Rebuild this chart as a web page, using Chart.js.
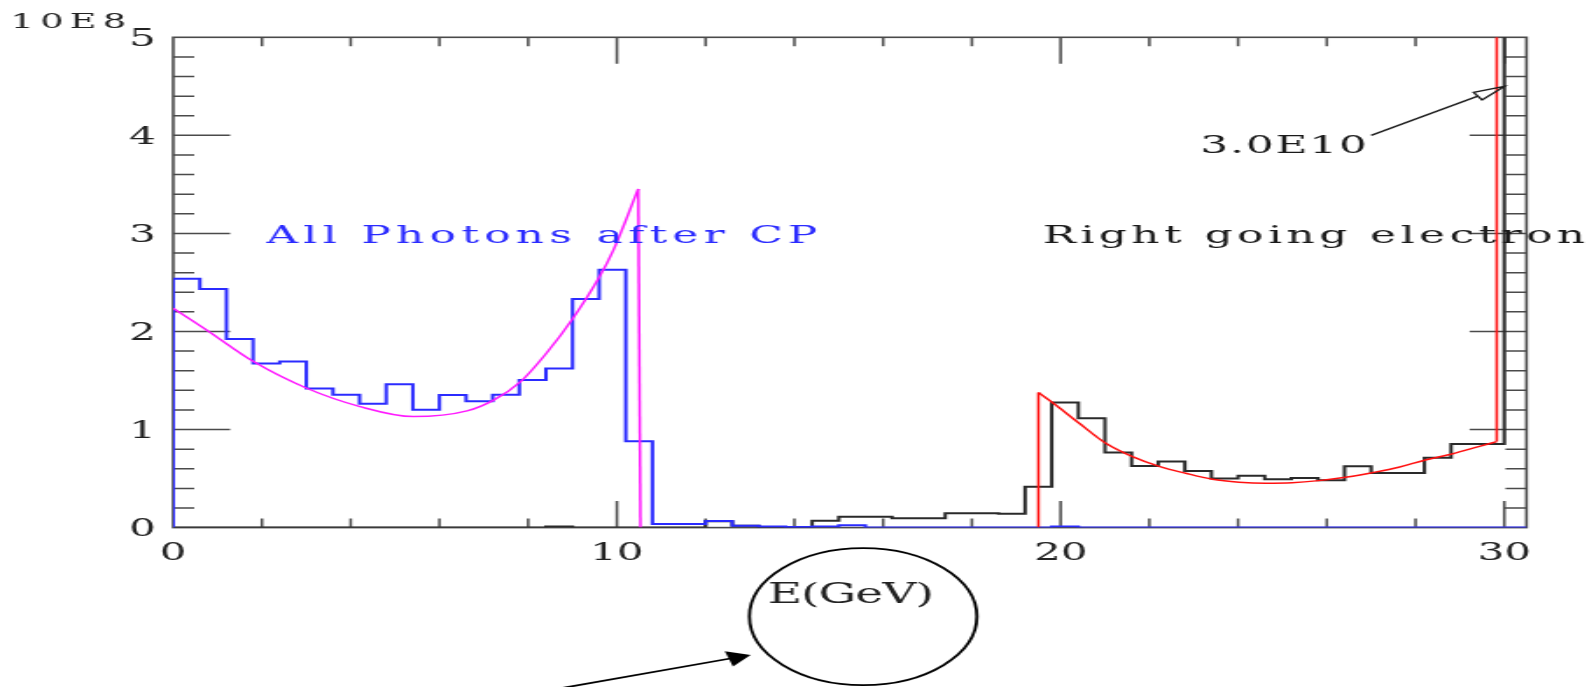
<!DOCTYPE html>
<html lang="en">
<head>
    <meta charset="UTF-8">
    <title>All Photons after CP / Right going electron</title>
    <script src="https://cdn.jsdelivr.net/npm/chart.js"></script>
    <style>
        body {
            margin: 0;
            background-color: #fff;
            overflow: hidden;
        }
        #plot {
            display: block;
        }
    </style>
</head>
<body>
    <!-- drawn narrow and stretched sideways, like the original plot -->
    <canvas id="plot" width="911" height="687" style="width: 1594px; height: 687px;"></canvas>

    <script>
        // histogram bins start at 0 GeV, all bins the same width
        const binWidth = 0.6;

        // All Photons after CP, in units of 10E8
        const photonCounts = [
            2.537, 2.434, 1.924, 1.673, 1.693, 1.418, 1.356, 1.264, 1.462, 1.203,
            1.353, 1.289, 1.356, 1.506, 1.622, 2.33, 2.629, 0.88, 0.037, 0.037,
            0.067, 0.02, 0.01, 0.005, 0.01, 0.025, 0, 0, 0, 0,
            0, 0, 0, 0.01, 0, 0, 0, 0, 0, 0,
            0, 0, 0, 0, 0, 0, 0, 0, 0, 0,
            0
        ];

        // Right going electron, last bin is 3.0E10 (off scale)
        const electronCounts = [
            0, 0, 0, 0, 0, 0, 0, 0, 0, 0,
            0, 0, 0, 0, 0.01, 0, 0, 0, 0, 0,
            0.065, 0.02, 0.005, 0.005, 0.07, 0.11, 0.11, 0.095, 0.095, 0.146,
            0.146, 0.14, 0.417, 1.275, 1.115, 0.765, 0.629, 0.673, 0.578, 0.5,
            0.53, 0.493, 0.506, 0.482, 0.625, 0.557, 0.557, 0.713, 0.853, 0.853,
            300
        ];

        // fitted photon spectrum (magenta), ends with the cut-off edge
        const photonFitX = [0, 0.75, 1.81, 3.01, 4.21, 5.41, 6.62, 7.22, 7.83, 8.41, 9.01, 9.61, 9.92, 10.48];
        const photonFitY = [2.237, 2.016, 1.693, 1.421, 1.234, 1.132, 1.19, 1.30, 1.489, 1.778, 2.135, 2.56, 2.83, 3.454];
        const photonEdgeX = 10.53;

        // fitted electron spectrum (red), rises at the low edge, spike at the beam energy
        const electronFitX = [19.5, 19.83, 20.42, 21.02, 21.62, 22.22, 22.82, 23.42, 24.02, 24.62,
            25.22, 25.82, 26.42, 27.02, 27.62, 28.22, 28.82, 29.42, 29.83];
        const electronFitY = [1.377, 1.27, 1.064, 0.86, 0.724, 0.625, 0.554, 0.493, 0.463, 0.452,
            0.457, 0.479, 0.513, 0.56, 0.615, 0.69, 0.751, 0.826, 0.877];
        const electronSpike = 300;

        // axes
        const xTickLabels = [0, 10, 20, 30];
        const yTickLabels = [0, 1, 2, 3, 4, 5];
        const xMinorStep = 2;
        const yMinorStep = 0.2;
        const xMax = 30.5;
        const yMax = 5;

        const FONT = '"DejaVu Serif", "Liberation Serif", serif';

        // histogram as a stepped outline: rises at 0, drops at the last edge
        function histPoints(counts) {
            const pts = [{ x: 0, y: 0 }];
            counts.forEach((v, i) => pts.push({ x: i * binWidth, y: v }));
            pts.push({ x: counts.length * binWidth, y: 0 });
            return pts;
        }

        function zipPoints(xs, ys) {
            return xs.map((x, i) => ({ x: x, y: ys[i] }));
        }

        const photonFit = zipPoints(photonFitX, photonFitY);
        const electronFit = zipPoints(electronFitX, electronFitY);
        const photonLast = photonFit[photonFit.length - 1];
        const electronFirst = electronFit[0];
        const electronLast = electronFit[electronFit.length - 1];

        // text stretched to a given width with letter spacing (HIGZ-like look)
        function spacedText(ctx, str, left, baseline, width) {
            ctx.letterSpacing = '0px';
            const natural = ctx.measureText(str).width;
            const gap = str.length > 1 ? (width - natural) / (str.length - 1) : 0;
            ctx.letterSpacing = gap.toFixed(2) + 'px';
            ctx.textAlign = 'left';
            ctx.textBaseline = 'alphabetic';
            ctx.fillText(str, left, baseline);
            ctx.letterSpacing = '0px';
        }

        function arrowHead(ctx, x0, y0, x1, y1, len, half, filled) {
            const a = Math.atan2(y1 - y0, x1 - x0);
            const bx = x1 - len * Math.cos(a);
            const by = y1 - len * Math.sin(a);
            ctx.beginPath();
            ctx.moveTo(x1, y1);
            ctx.lineTo(bx + half * Math.sin(a), by - half * Math.cos(a));
            ctx.lineTo(bx - half * Math.sin(a), by + half * Math.cos(a));
            ctx.closePath();
            if (filled) ctx.fill(); else ctx.stroke();
        }

        // frame with inward ticks on all four sides
        const framePlugin = {
            id: 'frame',
            beforeDatasetsDraw(chart) {
                const { ctx, chartArea: a, scales: { x, y } } = chart;
                ctx.save();
                ctx.strokeStyle = '#4a4a4a';
                ctx.lineWidth = 1.6;
                ctx.strokeRect(a.left, a.top, a.right - a.left, a.bottom - a.top);

                ctx.lineWidth = 1.5;
                ctx.beginPath();
                const nx = Math.floor(xMax / xMinorStep + 1e-9);
                for (let k = 1; k <= nx; k++) {
                    const v = k * xMinorStep;
                    const px = x.getPixelForValue(v);
                    const len = (v % 10 === 0) ? 26.5 : 9;
                    ctx.moveTo(px, a.bottom);
                    ctx.lineTo(px, a.bottom - len);
                    ctx.moveTo(px, a.top);
                    ctx.lineTo(px, a.top + len);
                }
                const ny = Math.round(yMax / yMinorStep);
                for (let k = 1; k < ny; k++) {
                    const py = y.getPixelForValue(k * yMinorStep);
                    const len = (k % 5 === 0) ? 32.5 : 12;
                    ctx.moveTo(a.left, py);
                    ctx.lineTo(a.left + len, py);
                    ctx.moveTo(a.right, py);
                    ctx.lineTo(a.right - len, py);
                }
                ctx.stroke();
                ctx.restore();
            }
        };

        // tick labels, captions and the hand-drawn marks
        const notesPlugin = {
            id: 'notes',
            afterDatasetsDraw(chart) {
                const { ctx, chartArea: a, scales: { x, y } } = chart;
                ctx.save();
                ctx.fillStyle = '#222';

                ctx.font = '24px ' + FONT;
                ctx.textAlign = 'right';
                ctx.textBaseline = 'alphabetic';
                yTickLabels.forEach(v => {
                    ctx.fillText(String(v), a.left - 10, y.getPixelForValue(v) + 8.7);
                });
                ctx.textAlign = 'center';
                xTickLabels.forEach(v => {
                    ctx.fillText(String(v), x.getPixelForValue(v), a.bottom + 32.5);
                });

                ctx.font = '21px ' + FONT;
                spacedText(ctx, '10E8', 6, 28.3, 66);

                ctx.font = '27px ' + FONT;
                const mid = (a.left + a.right) / 2;
                spacedText(ctx, 'E(GeV)', mid - 47, a.bottom + 75, 95);

                ctx.font = '25px ' + FONT;
                ctx.fillStyle = '#2b2bff';
                spacedText(ctx, 'All Photons after CP', x.getPixelForValue(2.1), y.getPixelForValue(2.9), 315);
                ctx.fillStyle = '#1a1a1a';
                spacedText(ctx, 'Right going electron', x.getPixelForValue(19.6), y.getPixelForValue(2.9), 310);
                spacedText(ctx, '3.0E10', x.getPixelForValue(23.15), y.getPixelForValue(3.82), 95);

                // arrow to the off-scale electron spike
                ctx.strokeStyle = '#1a1a1a';
                ctx.lineWidth = 1.3;
                const tx0 = x.getPixelForValue(27.0), ty0 = y.getPixelForValue(4.0);
                const tx1 = x.getPixelForValue(30.0), ty1 = y.getPixelForValue(4.5);
                const ta = Math.atan2(ty1 - ty0, tx1 - tx0);
                ctx.beginPath();
                ctx.moveTo(tx0, ty0);
                ctx.lineTo(tx1 - 18 * Math.cos(ta), ty1 - 18 * Math.sin(ta));
                ctx.stroke();
                ctx.fillStyle = '#fff';
                arrowHead(ctx, tx0, ty0, tx1, ty1, 18, 4.5, false);

                // circle round the axis title and the arrow pointing at it
                ctx.strokeStyle = '#000';
                ctx.fillStyle = '#000';
                ctx.lineWidth = 1.8;
                ctx.beginPath();
                ctx.ellipse(x.getPixelForValue(15.55), a.bottom + 89, 65, 68.5, 0, 0, Math.PI * 2);
                ctx.stroke();

                const bx0 = 318, by0 = 689, bx1 = 429, by1 = 655;
                ctx.beginPath();
                ctx.moveTo(bx0, by0);
                ctx.lineTo(bx1 - 10, by1 + 3);
                ctx.stroke();
                arrowHead(ctx, bx0, by0, bx1, by1, 13, 8, true);
                ctx.restore();
            }
        };

        const histStyle = { stepped: true, tension: 0, borderWidth: 2, fill: false, borderJoinStyle: 'miter' };
        const fitStyle = { tension: 0, borderWidth: 1.5, fill: false };

        const ctx = document.getElementById('plot').getContext('2d');
        new Chart(ctx, {
            type: 'line',
            data: {
                datasets: [
                    // first in the list is drawn on top
                    { ...fitStyle, label: 'photon fit', data: photonFit, borderColor: '#ff1aff', cubicInterpolationMode: 'monotone' },
                    { ...fitStyle, label: 'photon edge', data: [photonLast, { x: photonEdgeX, y: 0 }], borderColor: '#ff1aff' },
                    { ...fitStyle, label: 'electron fit', data: electronFit, borderColor: '#ff1010', cubicInterpolationMode: 'monotone' },
                    { ...fitStyle, label: 'electron rise', data: [{ x: electronFirst.x, y: 0 }, electronFirst], borderColor: '#ff1010' },
                    { ...fitStyle, label: 'electron spike', data: [electronLast, { x: electronLast.x, y: electronSpike }], borderColor: '#ff1010' },
                    { ...histStyle, label: 'All Photons after CP', data: histPoints(photonCounts), borderColor: '#2b2bff' },
                    { ...histStyle, label: 'Right going electron', data: histPoints(electronCounts), borderColor: '#2a2a2a' }
                ]
            },
            options: {
                responsive: false,
                animation: false,
                events: [],
                layout: {
                    padding: { left: 99, right: 38.6, top: 37.3, bottom: 159.4 }
                },
                elements: {
                    point: { radius: 0 }
                },
                plugins: {
                    legend: { display: false },
                    tooltip: { enabled: false }
                },
                scales: {
                    x: { type: 'linear', min: 0, max: xMax, display: false },
                    y: { type: 'linear', min: 0, max: yMax, display: false }
                }
            },
            plugins: [framePlugin, notesPlugin]
        });
    </script>
</body>
</html>
